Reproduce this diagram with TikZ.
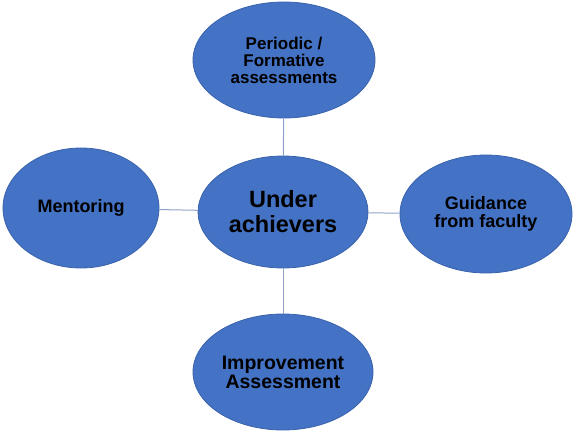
\documentclass[tikz,border=0pt]{standalone}
\usepackage{fontspec}
\setmainfont{Liberation Sans}
\usetikzlibrary{shapes.geometric}
\definecolor{bubble}{HTML}{4472C4}
\definecolor{bubbleline}{HTML}{3A62AC}
\definecolor{link}{HTML}{8FA3C8}
\tikzset{
  bub/.style={ellipse, fill=bubble, draw=bubbleline, line width=0.8pt, inner sep=0pt,
    align=center, font=\bfseries\fontsize{18}{17.5}\selectfont, text=black},
  conn/.style={draw=link, line width=1pt}
}
\begin{document}
\begin{tikzpicture}[x=1pt,y=-1pt]
\useasboundingbox (0,0) rectangle (576,434);
\node[bub, minimum width=182, minimum height=116, font=\bfseries\fontsize{17}{17}\selectfont] (top) at (284,60) {Periodic /\\Formative\\assessments};
\node[bub, minimum width=170, minimum height=112, font=\bfseries\fontsize{23.5}{25}\selectfont] (c) at (283,212) {Under\\achievers};
\node[bub, minimum width=156, minimum height=120] (l) at (81,208) {Mentoring};
\node[bub, minimum width=172, minimum height=118] (r) at (486,214) {Guidance\\from faculty};
\node[bub, minimum width=180, minimum height=116, font=\bfseries\fontsize{19.5}{19}\selectfont] (b) at (283,372) {Improvement\\Assessment};
\draw[conn] (top) -- (c);
\draw[conn] (l) -- (c);
\draw[conn] (c) -- (r);
\draw[conn] (c) -- (b);
\end{tikzpicture}
\end{document}
